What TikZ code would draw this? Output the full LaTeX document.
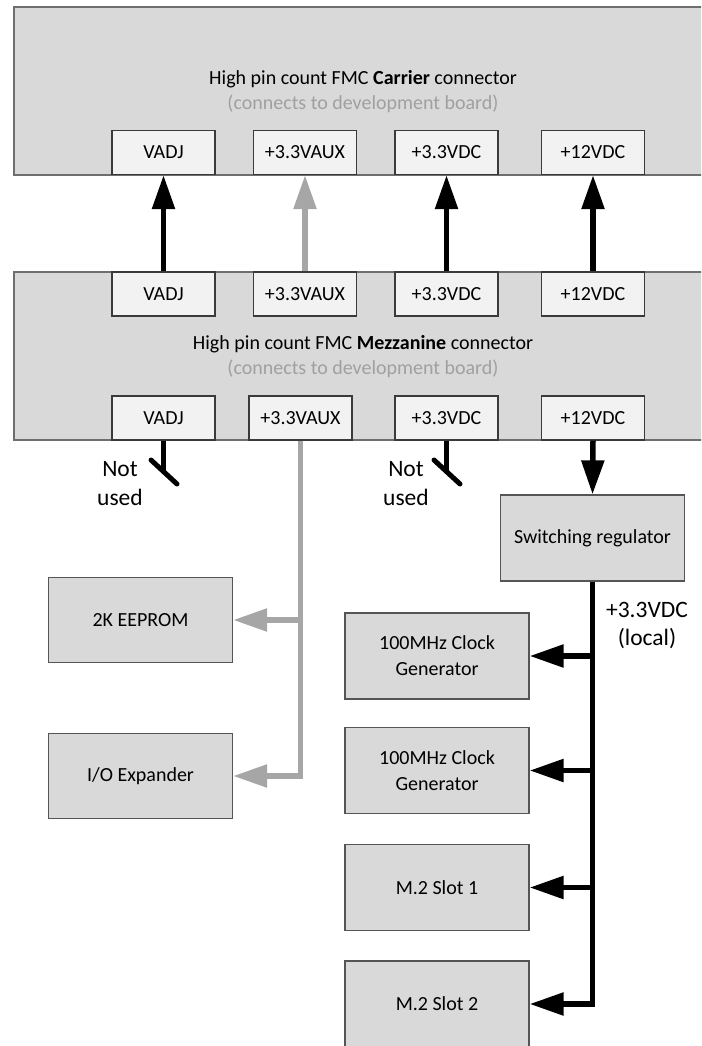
\documentclass[tikz,border=0pt]{standalone}
\usepackage{fontspec}
\setmainfont{Carlito}
\usetikzlibrary{arrows.meta}

\definecolor{boardfill}{HTML}{D9D9D9}
\definecolor{boardline}{HTML}{6E6E6E}
\definecolor{pinfill}{HTML}{F2F2F2}
\definecolor{pinline}{HTML}{3A3A3A}
\definecolor{blockline}{HTML}{555555}
\definecolor{auxgray}{HTML}{A6A6A6}
\definecolor{subgray}{HTML}{A0A0A0}

\tikzset{
  txt/.style={font=\fontsize{20}{25}\selectfont, text=black},
  board/.style={draw=boardline, fill=boardfill, line width=2pt},
  pinbox/.style={txt, draw=pinline, fill=pinfill, line width=1.3pt,
    minimum width=103pt, minimum height=44pt, inner sep=0pt},
  block/.style={draw=blockline, fill=boardfill, line width=1.3pt,
    minimum width=184pt, minimum height=86pt, inner sep=0pt, align=center,
    font=\fontsize{20}{26}\selectfont},
  label/.style={align=center, inner sep=0pt, font=\fontsize{23.5}{29}\selectfont},
  feed/.style={line width=5.5pt, -{Triangle[length=34pt,width=22pt]}},
  blackfeed/.style={feed, draw=black},
  grayfeed/.style={feed, draw=auxgray},
  stub/.style={line width=5pt, draw=black},
}

\begin{document}
\begin{tikzpicture}[x=1pt, y=-1pt]
\path[use as bounding box] (0,0) rectangle (701,1046);
\clip (0,0) rectangle (701,1046);

% Carrier connector
\draw[board] (14,7) rectangle (716,175);
\node[txt, align=center, inner sep=0pt] (ctitle) at (363,91.5)
  {High pin count FMC \textbf{Carrier} connector\\
   \textcolor{subgray}{(connects to development board)}};
\node[pinbox] (cvadj) at (163.5,152.5) {VADJ};
\node[pinbox] (caux)  at (305,152.5)   {+3.3VAUX};
\node[pinbox] (cvdc)  at (446.5,152.5) {+3.3VDC};
\node[pinbox] (c12)   at (593,152.5)   {+12VDC};

% Mezzanine connector
\draw[board] (14,272) rectangle (716,440);
\node[txt, align=center, inner sep=0pt] (mtitle) at (363,356.5)
  {High pin count FMC \textbf{Mezzanine} connector\\
   \textcolor{subgray}{(connects to development board)}};
\node[pinbox] (tvadj) at (163.5,294) {VADJ};
\node[pinbox] (taux)  at (305,294)   {+3.3VAUX};
\node[pinbox] (tvdc)  at (446.5,294) {+3.3VDC};
\node[pinbox] (t12)   at (593,294)   {+12VDC};
\node[pinbox] (bvadj) at (163.5,418) {VADJ};
\node[pinbox] (baux)  at (300.5,418) {+3.3VAUX};
\node[pinbox] (bvdc)  at (446.5,418) {+3.3VDC};
\node[pinbox] (b12)   at (593,418)   {+12VDC};

% Board-to-board rails
\draw[blackfeed] (tvadj.north) -- (cvadj.south);
\draw[grayfeed]  (taux.north)  -- (caux.south);
\draw[blackfeed] (tvdc.north)  -- (cvdc.south);
\draw[blackfeed] (t12.north)   -- (c12.south);

% Unused rails
\coordinate (vadjend) at (163.5,471);
\coordinate (vadjsw1) at (151,460);
\coordinate (vadjsw2) at (177,484);
\draw[stub] (bvadj.south) -- (vadjend);
\draw[stub, line cap=round] (vadjsw1) -- (vadjsw2);
\node[label] (nu1) at (120,483.5) {Not\\used};

\coordinate (vdcend) at (446.5,471);
\coordinate (vdcsw1) at (434,460);
\coordinate (vdcsw2) at (460,484);
\draw[stub] (bvdc.south) -- (vdcend);
\draw[stub, line cap=round] (vdcsw1) -- (vdcsw2);
\node[label] (nu2) at (406,483.5) {Not\\used};

% Blocks
\node[block] (reg)    at (592.5,538) {Switching regulator};
\node[block, minimum height=85pt] (eeprom) at (140.5,620) {2K EEPROM};
\node[block, minimum height=85pt] (ioexp)  at (140.5,776) {I/O Expander};
\node[block] (clk1) at (437,656)   {100MHz Clock\\Generator};
\node[block] (clk2) at (437,770.5) {100MHz Clock\\Generator};
\node[block] (m2a)  at (437,887.5) {M.2 Slot 1};
\node[block] (m2b)  at (437,1004)  {M.2 Slot 2};

% +12VDC into the regulator
\draw[blackfeed] (b12.south) -- (reg.north);

% +3.3VAUX distribution
\draw[grayfeed] (baux.south) -- (baux.south |- ioexp.east) -- (ioexp.east);
\draw[grayfeed] (baux.south |- eeprom.east) -- (eeprom.east);

% Local +3.3VDC distribution
\draw[blackfeed] (reg.south) -- (reg.south |- m2b.east) -- (m2b.east);
\draw[blackfeed] (reg.south |- clk1.east) -- (clk1.east);
\draw[blackfeed] (reg.south |- clk2.east) -- (clk2.east);
\draw[blackfeed] (reg.south |- m2a.east)  -- (m2a.east);
\node[label, font=\fontsize{23.5}{28}\selectfont] (local) at (647,625) {+3.3VDC\\(local)};
\end{tikzpicture}
\end{document}
